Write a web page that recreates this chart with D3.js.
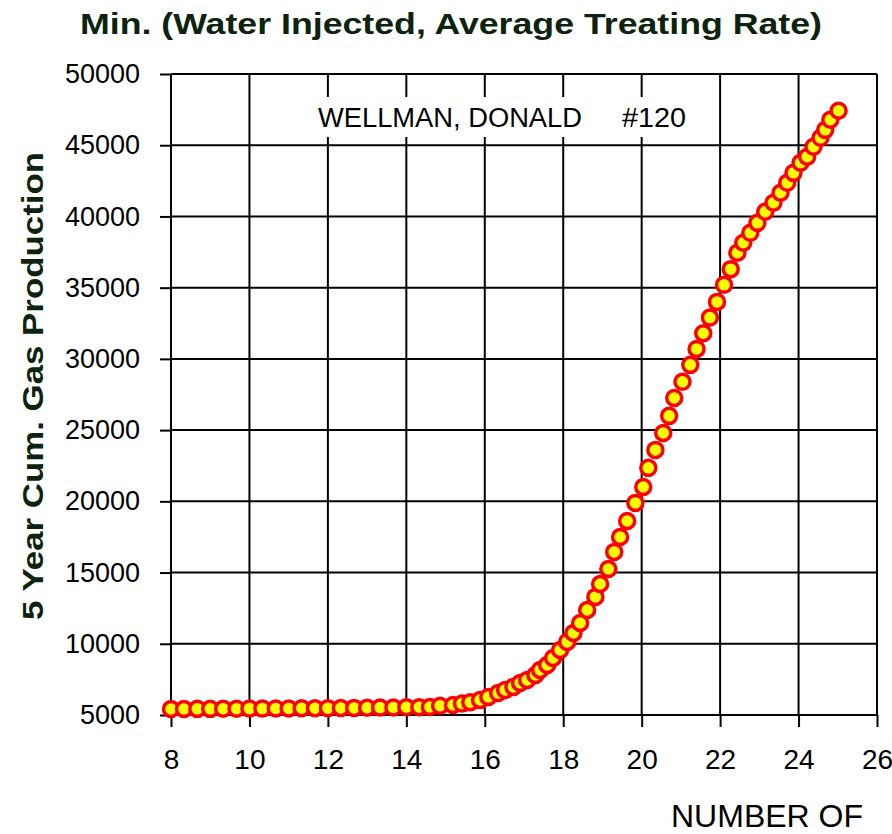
<!DOCTYPE html>
<html>
<head>
<meta charset="utf-8">
<script src="https://cdn.jsdelivr.net/npm/d3@7"></script>
<style>
  body { margin: 0; background: #ffffff; }
</style>
</head>
<body>
<script>
// values
const xTicks = [8, 10, 12, 14, 16, 18, 20, 22, 24, 26];
const yTicks = [5000, 10000, 15000, 20000, 25000, 30000, 35000, 40000, 45000, 50000];

const numberOf = [
  8.0, 8.33, 8.67, 9.0, 9.33, 9.67, 10.0, 10.33, 10.67, 11.0,
  11.33, 11.67, 12.0, 12.33, 12.67, 13.0, 13.33, 13.67, 14.0, 14.33,
  14.6, 14.86, 15.19, 15.42, 15.63, 15.88, 16.09, 16.34, 16.52, 16.73,
  16.9, 17.08, 17.29, 17.41, 17.59, 17.74, 17.92, 18.1, 18.26, 18.43,
  18.61, 18.82, 18.94, 19.15, 19.3, 19.45, 19.63, 19.84, 20.04, 20.17,
  20.35, 20.55, 20.7, 20.83, 21.04, 21.24, 21.4, 21.57, 21.74, 21.92,
  22.1, 22.27, 22.44, 22.59, 22.77, 22.95, 23.15, 23.36, 23.54, 23.71,
  23.87, 24.05, 24.22, 24.38, 24.56, 24.68, 24.81, 25.02
];
const cumGas = [
  5420, 5420, 5430, 5430, 5440, 5440, 5450, 5450, 5460, 5460,
  5470, 5470, 5480, 5490, 5500, 5510, 5520, 5530, 5540, 5550,
  5560, 5650, 5700, 5800, 5900, 6050, 6260, 6540, 6760, 6970,
  7250, 7460, 7810, 8160, 8510, 9000, 9560, 10130, 10760, 11460,
  12370, 13290, 14200, 15250, 16450, 17500, 18620, 19890, 21010, 22350,
  23610, 24800, 26000, 27260, 28390, 29580, 30700, 31800, 32900, 34000,
  35200, 36300, 37450, 38150, 38850, 39550, 40330, 40960, 41660, 42360,
  43060, 43770, 44190, 44890, 45520, 46080, 46790, 47420
];

const titleText = "Min. (Water Injected, Average Treating Rate)";
const yTitle = "5 Year Cum. Gas Production";
const xTitle = "NUMBER OF";
const wellName = "WELLMAN, DONALD";
const wellNo = "#120";

const width = 892;
const height = 834;
const margin = { top: 74, right: 15, bottom: 119, left: 171 };
const green = "#0c230e";
const font = "Arial, 'Liberation Sans', sans-serif";

const svg = d3.select("body").append("svg")
  .attr("width", width)
  .attr("height", height)
  .style("font-family", font);

const x = d3.scaleLinear()
  .domain([8, 26])
  .range([margin.left, width - margin.right]);

const y = d3.scaleLinear()
  .domain([5000, 50000])
  .range([height - margin.bottom, margin.top]);

// grid
const grid = svg.append("g")
  .attr("stroke", "#000")
  .attr("stroke-width", 2);

grid.selectAll("line.v")
  .data(xTicks)
  .join("line")
  .attr("class", "v")
  .attr("x1", d => x(d))
  .attr("x2", d => x(d))
  .attr("y1", y(5000))
  .attr("y2", y(50000));

grid.selectAll("line.h")
  .data(yTicks)
  .join("line")
  .attr("class", "h")
  .attr("x1", x(8))
  .attr("x2", x(26))
  .attr("y1", d => y(d))
  .attr("y2", d => y(d));

// axes (outer ticks only)
const xAxis = d3.axisBottom(x)
  .tickValues(xTicks)
  .tickSize(12)
  .tickPadding(22)
  .tickFormat(d3.format("d"));

const yAxis = d3.axisLeft(y)
  .tickValues(yTicks)
  .tickSize(11)
  .tickPadding(20)
  .tickFormat(d3.format("d"));

svg.append("g")
  .attr("transform", `translate(0,${y(5000)})`)
  .call(xAxis)
  .call(sel => sel.select(".domain").remove())
  .call(sel => sel.selectAll("line").attr("stroke", "#000").attr("stroke-width", 2))
  .call(sel => sel.selectAll("text")
    .attr("fill", "#000")
    .style("font-size", "28px")
    .style("font-family", font));

svg.append("g")
  .attr("transform", `translate(${x(8)},0)`)
  .call(yAxis)
  .call(sel => sel.select(".domain").remove())
  .call(sel => sel.selectAll("line").attr("stroke", "#000").attr("stroke-width", 2))
  .call(sel => sel.selectAll("text")
    .attr("fill", "#000")
    .style("font-size", "27px")
    .style("font-family", font));

// well annotation with white box breaking the grid
svg.append("rect")
  .attr("x", 312)
  .attr("y", 97)
  .attr("width", 388)
  .attr("height", 40)
  .attr("fill", "#fff");

svg.append("text")
  .attr("x", 318)
  .attr("y", 127)
  .attr("fill", "#000")
  .attr("textLength", 264)
  .attr("lengthAdjust", "spacingAndGlyphs")
  .style("font-size", "27px")
  .text(wellName);

svg.append("text")
  .attr("x", 622)
  .attr("y", 127)
  .attr("fill", "#000")
  .attr("textLength", 64)
  .attr("lengthAdjust", "spacingAndGlyphs")
  .style("font-size", "27px")
  .text(wellNo);

// markers
const pts = numberOf.map((d, i) => ({ n: d, v: cumGas[i] }));

svg.append("g")
  .selectAll("circle")
  .data(pts)
  .join("circle")
  .attr("cx", d => x(d.n))
  .attr("cy", d => y(d.v))
  .attr("r", 7.5)
  .attr("fill", "#ffff00")
  .attr("stroke", "#ff0000")
  .attr("stroke-width", 3.5);

// titles
svg.append("text")
  .attr("x", 451)
  .attr("y", 34)
  .attr("text-anchor", "middle")
  .attr("fill", green)
  .attr("textLength", 742)
  .attr("lengthAdjust", "spacingAndGlyphs")
  .style("font-size", "29px")
  .style("font-weight", "bold")
  .text(titleText);

svg.append("text")
  .attr("transform", `translate(43,386) rotate(-90)`)
  .attr("text-anchor", "middle")
  .attr("fill", green)
  .attr("textLength", 468)
  .attr("lengthAdjust", "spacingAndGlyphs")
  .style("font-size", "29px")
  .style("font-weight", "bold")
  .text(yTitle);

svg.append("text")
  .attr("x", 671)
  .attr("y", 827)
  .attr("fill", "#000")
  .style("font-size", "32px")
  .text(xTitle);
</script>
</body>
</html>
